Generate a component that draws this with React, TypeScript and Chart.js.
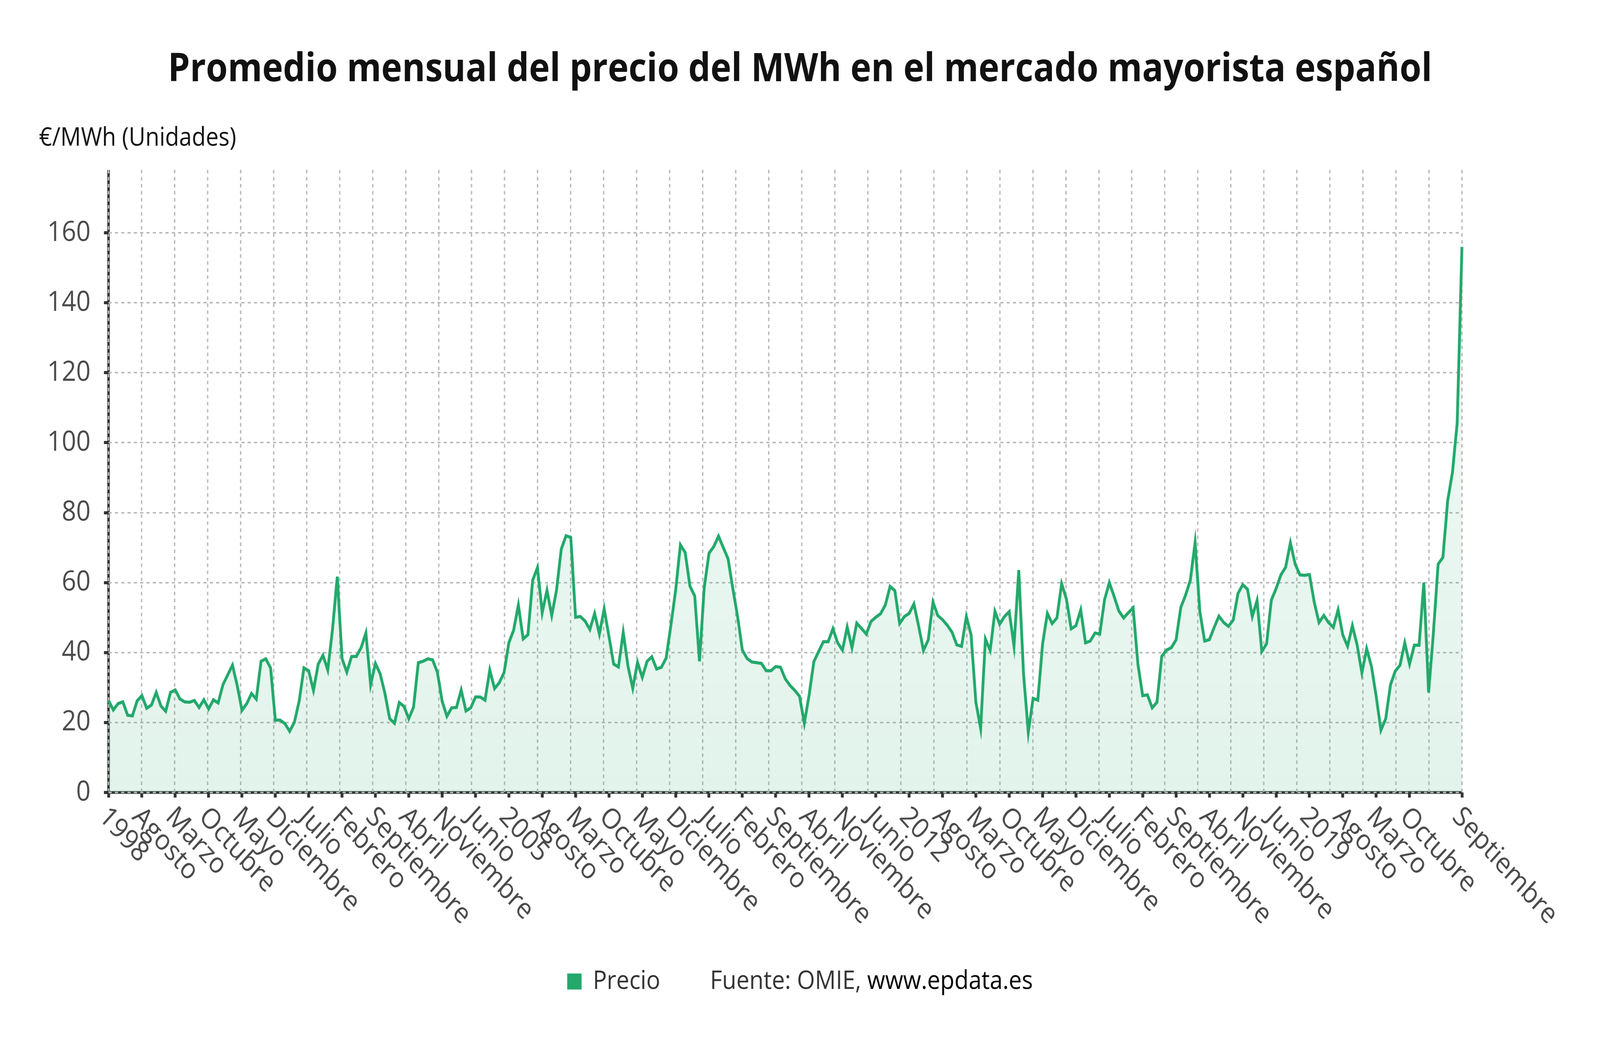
import { useEffect, useRef } from "react"
import { Chart, registerables, type Plugin } from "chart.js"

Chart.register(...registerables)

const FONT = '"Open Sans", "Noto Sans", sans-serif'
const GREEN = "#22a96b"
const AXIS = "#333"

const chartTitle = "Promedio mensual del precio del MWh en el mercado mayorista español"
const yAxisTitle = "€/MWh (Unidades)"
const seriesName = "Precio"
const sourceLabel = "Fuente: OMIE, "
const sourceLink = "www.epdata.es"

const startYear = 1998
const monthNames = [
  "Enero", "Febrero", "Marzo", "Abril", "Mayo", "Junio",
  "Julio", "Agosto", "Septiembre", "Octubre", "Noviembre", "Diciembre",
]

// €/MWh, monthly average, Jan 1998 .. Sep 2021
const prices = [
  26.3, 23.6, 25.4, 25.9, 22.1, 21.9, 26.2, 27.7, 24.1, 25.0, 28.6, 24.7,
  23.2, 28.6, 29.3, 26.7, 25.9, 25.8, 26.3, 24.3, 26.5, 23.9, 26.5, 25.6,
  30.8, 33.6, 36.4, 30.6, 23.5, 25.4, 28.3, 26.7, 37.5, 38.2, 35.6, 20.7,
  20.7, 19.7, 17.5, 20.1, 26.1, 35.6, 34.8, 29.2, 36.7, 39.2, 35.0, 46.7,
  61.7, 38.3, 34.4, 38.9, 38.9, 41.4, 45.6, 30.8, 36.9, 33.9, 28.3, 21.1,
  19.8, 25.7, 24.6, 21.1, 24.4, 37.1, 37.5, 38.2, 37.9, 34.4, 26.1, 21.8,
  24.2, 24.3, 29.3, 23.3, 24.2, 27.3, 27.3, 26.4, 35.0, 29.7, 31.4, 34.3,
  42.8, 46.4, 53.6, 43.9, 45.1, 60.7, 64.3, 51.4, 57.8, 50.6, 57.8, 69.6,
  73.4, 72.9, 50.1, 50.3, 49.0, 46.6, 51.2, 45.3, 52.5, 44.7, 36.7, 35.9,
  45.8, 36.1, 29.8, 37.2, 32.9, 37.5, 38.8, 35.3, 35.8, 38.4, 47.8, 57.8,
  70.8, 68.6, 59.0, 56.2, 37.5, 58.6, 68.4, 70.3, 73.3, 70.0, 66.8, 58.3,
  50.3, 40.7, 38.3, 37.3, 37.1, 36.9, 34.8, 34.8, 36.0, 35.8, 32.5, 30.6,
  29.2, 27.5, 19.8, 27.8, 37.4, 40.3, 43.1, 43.1, 46.8, 42.8, 40.7, 47.3,
  41.4, 48.4, 46.9, 45.3, 48.9, 50.1, 51.1, 53.6, 58.9, 57.7, 48.3, 50.3,
  51.2, 53.9, 47.5, 40.6, 43.6, 54.4, 50.6, 49.4, 47.8, 45.8, 42.2, 41.8,
  50.3, 45.0, 25.8, 18.3, 43.9, 40.6, 51.8, 48.1, 50.3, 51.7, 41.9, 63.6,
  33.9, 17.2, 26.9, 26.4, 42.5, 51.2, 48.3, 49.9, 59.7, 55.3, 46.8, 47.7,
  52.2, 42.8, 43.3, 45.6, 45.3, 55.1, 60.0, 56.1, 51.9, 49.9, 51.4, 52.8,
  36.7, 27.7, 27.9, 24.2, 25.8, 38.9, 40.7, 41.4, 43.6, 52.9, 56.4, 60.7,
  71.4, 51.7, 43.3, 43.7, 47.2, 50.4, 48.6, 47.5, 49.3, 56.9, 59.4, 58.1,
  50.3, 54.9, 40.3, 42.5, 55.0, 58.3, 62.2, 64.4, 71.4, 65.3, 62.2, 62.1,
  62.3, 54.4, 48.6, 50.6, 48.6, 47.2, 52.2, 45.0, 41.8, 47.7, 42.2, 34.2,
  41.1, 36.1, 27.5, 17.8, 21.1, 30.8, 34.7, 36.4, 42.8, 36.7, 42.1, 42.1,
  60.0, 28.6, 45.6, 65.3, 67.2, 83.4, 91.5, 105.7, 156.0,
]

// one label per month: the year for January, the month name otherwise
const months = prices.map((_, i) =>
  i % 12 === 0 ? String(startYear + i / 12) : monthNames[i % 12]
)

const yTicks = [0, 20, 40, 60, 80, 100, 120, 140, 160]
const yMax = 178
const tickStep = 7 // a labelled tick every 7 months, plus the last month
const gridDivisions = 41 // vertical grid lines split the width evenly

const lastIdx = prices.length - 1
const xTickIdx = months
  .map((_, i) => i)
  .filter((i) => (i % tickStep === 0 && lastIdx - i > tickStep) || i === lastIdx)
const xGridVals = Array.from({ length: gridDivisions + 1 }, (_, k) => (k * lastIdx) / gridDivisions)

// drawing buffer = reference page minus the body margin; CSS stretches it to the viewport
const W = 4536
const H = 2657
const GRID_DASH = [9, 9]

// dark axis lines go under the dashed grid, so they are painted before the scales
const axisLinePlugin: Plugin<"line"> = {
  id: "axisLines",
  beforeDraw(chart) {
    const { ctx, chartArea } = chart
    ctx.save()
    ctx.strokeStyle = AXIS
    ctx.lineWidth = 7
    ctx.beginPath()
    ctx.moveTo(chartArea.left, chartArea.top)
    ctx.lineTo(chartArea.left, chartArea.bottom)
    ctx.moveTo(chartArea.left - 13, chartArea.bottom)
    ctx.lineTo(chartArea.right, chartArea.bottom)
    ctx.stroke()
    ctx.restore()
  },
}

const textPlugin: Plugin<"line"> = {
  id: "epdataText",
  afterDraw(chart) {
    const { ctx, chartArea, scales, width } = chart
    const xScale = scales.x
    ctx.save()
    ctx.textBaseline = "middle"
    ctx.textAlign = "left"

    // unit label above the y axis
    ctx.font = `65px ${FONT}`
    ctx.fillStyle = "#111"
    ctx.fillText(yAxisTitle, 102, chartArea.top - 81)

    // x labels, rotated down-right from each tick
    ctx.font = `72px ${FONT}`
    ctx.fillStyle = "#4a4a4a"
    xScale.ticks.forEach((t) => {
      const px = xScale.getPixelForValue(t.value)
      ctx.save()
      ctx.translate(px - 16, chartArea.bottom + 51)
      ctx.rotate(Math.PI / 4)
      ctx.fillText(xScale.getLabelForValue(t.value), 0, 0)
      ctx.restore()
    })

    // legend + source line
    ctx.font = `66px ${FONT}`
    const box = 41
    const gapBox = 32
    const gapSource = 142
    const wName = ctx.measureText(seriesName).width
    const wSrc = ctx.measureText(sourceLabel).width
    const wLink = ctx.measureText(sourceLink).width
    const total = box + gapBox + wName + gapSource + wSrc + wLink
    let x = (width - total) / 2
    const y = chartArea.bottom + 484
    ctx.fillStyle = GREEN
    ctx.fillRect(x, y - box / 2, box, box)
    x += box + gapBox
    ctx.fillStyle = "#333"
    ctx.fillText(seriesName, x, y)
    x += wName + gapSource
    ctx.fillText(sourceLabel, x, y)
    x += wSrc
    ctx.fillStyle = "#000"
    ctx.fillText(sourceLink, x, y)
    ctx.restore()
  },
}

function PriceChart() {
  const canvasRef = useRef<HTMLCanvasElement>(null)
  const chartRef = useRef<Chart | null>(null)

  useEffect(() => {
    if (!canvasRef.current) return
    if (chartRef.current) chartRef.current.destroy()

    chartRef.current = new Chart(canvasRef.current, {
      type: "line",
      data: {
        labels: months,
        datasets: [
          {
            label: seriesName,
            data: prices,
            borderColor: GREEN,
            borderWidth: 8,
            pointRadius: 0,
            tension: 0,
            fill: "origin",
            backgroundColor: (c) => {
              const area = c.chart.chartArea
              if (!area) return "rgba(34,169,107,0.1)"
              const g = c.chart.ctx.createLinearGradient(0, area.bottom, 0, area.top)
              g.addColorStop(0, "rgba(34,169,107,0.13)")
              g.addColorStop(1, "rgba(34,169,107,0.05)")
              return g
            },
          },
        ],
      },
      options: {
        responsive: false,
        animation: false,
        devicePixelRatio: 1,
        layout: { padding: 0 },
        plugins: {
          legend: { display: false },
          tooltip: { enabled: false },
          title: {
            display: true,
            text: chartTitle,
            color: "#111",
            font: { family: FONT, size: 100, weight: "bold" },
            padding: { top: 112, bottom: 195 },
          },
        },
        scales: {
          x: {
            type: "category",
            offset: false,
            afterBuildTicks: (s) => {
              s.ticks = xTickIdx.map((v) => ({ value: v }))
            },
            afterFit: (s) => {
              s.height = 636
            },
            border: { display: false },
            grid: { drawOnChartArea: false, color: AXIS, tickLength: 13, tickWidth: 8 },
            ticks: { display: false },
          },
          xg: {
            type: "linear",
            position: "bottom",
            min: 0,
            max: lastIdx,
            afterBuildTicks: (s) => {
              s.ticks = xGridVals.map((v) => ({ value: v }))
            },
            afterFit: (s) => {
              s.height = 0
            },
            border: { display: false, dash: GRID_DASH },
            grid: { color: "#bbbbbb", lineWidth: 4, drawTicks: false },
            ticks: { display: false },
          },
          y: {
            min: 0,
            max: yMax,
            afterBuildTicks: (s) => {
              s.ticks = yTicks.map((v) => ({ value: v }))
            },
            afterFit: (s) => {
              s.width = 300
            },
            border: { display: false, dash: GRID_DASH },
            grid: {
              color: "#bbbbbb",
              lineWidth: 4,
              tickColor: AXIS,
              tickLength: 13,
              tickWidth: 8,
            },
            ticks: {
              color: "#4a4a4a",
              font: { family: FONT, size: 72 },
              padding: 38,
            },
          },
          // empty strip on the right, room for the last rotated label
          yr: {
            type: "linear",
            position: "right",
            afterFit: (s) => {
              s.width = 384
            },
            border: { display: false },
            grid: { display: false },
            ticks: { display: false },
          },
        },
      },
      plugins: [axisLinePlugin, textPlugin],
    })

    return () => {
      if (chartRef.current) {
        chartRef.current.destroy()
        chartRef.current = null
      }
    }
  }, [])

  return (
    <canvas
      ref={canvasRef}
      width={W}
      height={H}
      style={{ display: "block", width: "calc(100vw - 16px)", height: "calc(100vh - 16px)" }}
    />
  )
}

export default function App() {
  return <PriceChart />
}
